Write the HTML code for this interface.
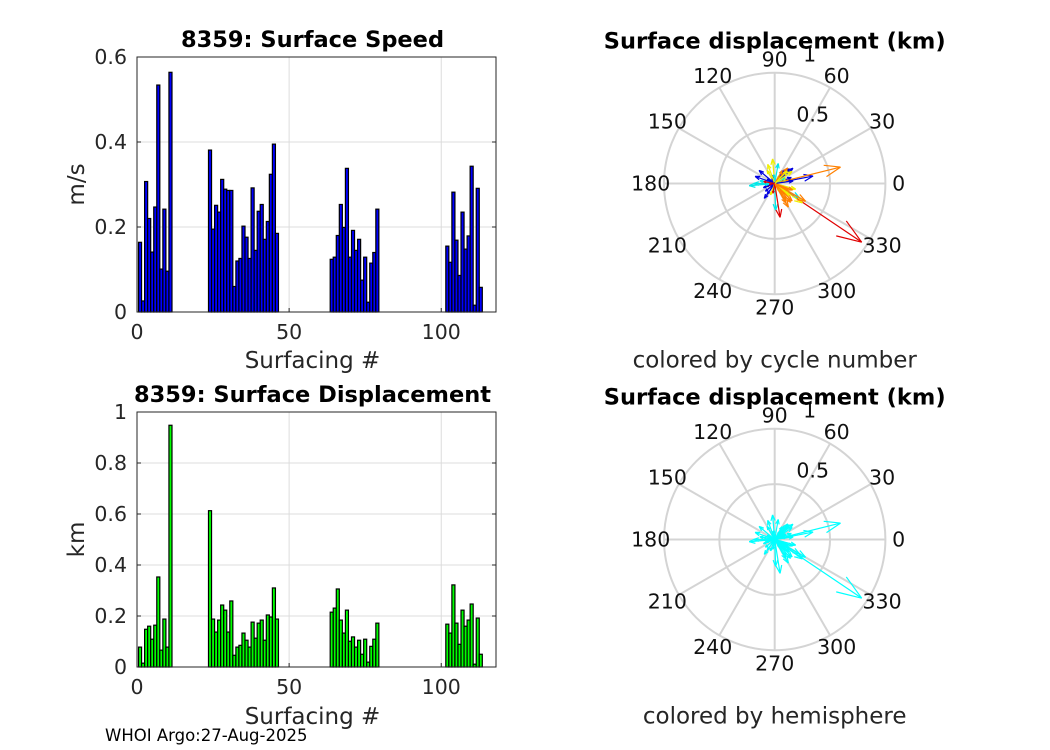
<!DOCTYPE html>
<html><head><meta charset="utf-8"><style>
body{margin:0;background:#fff;}
svg{display:block;font-family:"DejaVu Sans","Liberation Sans",sans-serif;}
.tk{font-size:20.5px;fill:#262626;}
.tt{font-size:22.5px;font-weight:bold;fill:#000;}
.lb{font-size:23px;fill:#262626;}
</style></head><body>
<svg id="fig" width="1050" height="750" viewBox="0 0 1050 750"></svg>
<script>
const surfacing=[1,2,3,4,5,6,7,8,9,10,11,24,25,26,27,28,29,30,31,32,33,34,35,36,37,38,39,40,41,42,43,44,45,46,64,65,66,67,68,69,70,71,72,73,74,75,76,77,78,79,102,103,104,105,106,107,108,109,110,111,112,113];
const speed=[0.164,0.026,0.307,0.220,0.141,0.247,0.534,0.101,0.242,0.096,0.564,
0.381,0.195,0.251,0.235,0.312,0.289,0.286,0.286,0.060,0.120,0.126,0.202,0.176,0.126,0.292,0.145,0.237,0.253,0.171,0.213,0.324,0.395,0.185,
0.124,0.129,0.180,0.253,0.199,0.338,0.129,0.192,0.145,0.171,0.075,0.129,0.023,0.115,0.140,0.242,
0.155,0.117,0.282,0.169,0.086,0.235,0.148,0.179,0.343,0.016,0.291,0.058];
const displacement=[0.078,0.015,0.148,0.160,0.109,0.164,0.353,0.066,0.188,0.078,0.948,
0.613,0.188,0.137,0.184,0.243,0.223,0.137,0.259,0.046,0.078,0.085,0.133,0.105,0.078,0.176,0.113,0.172,0.184,0.105,0.204,0.196,0.310,0.188,
0.215,0.231,0.306,0.184,0.133,0.223,0.101,0.118,0.078,0.105,0.050,0.109,0.019,0.081,0.109,0.172,
0.168,0.133,0.322,0.172,0.089,0.223,0.160,0.184,0.247,0.011,0.192,0.050];
const direction=[150,200,55,20,220,235,11,190,160,100,326,
14,45,170,80,272,95,120,330,180,200,190,315,340,60,305,25,320,50,10,300,345,279,180,
40,185,325,140,60,310,170,235,300,30,120,200,0,95,250,320,
8,335,330,340,260,315,45,110,300,90,35,190];
const cycleColor=["b","b","b","b","b","b","b","r","b","b","R",
"o","d","c","c","c","y","y","c","r","r","c","o","o","y","o","y","o","o","y","o","y","R","c",
"b","c","y","b","o","o","R","b","y","c","b","b","b","c","y","y",
"b","o","o","o","R","o","y","y","o","b","y","R"];
const colorMap={b:"#0000e0",d:"#00008f",c:"#00e8e8",y:"#f0f000",o:"#ff8000",r:"#800000",R:"#e00000"};
const speedTicks=[0,0.2,0.4,0.6];
const dispTicks=[0,0.2,0.4,0.6,0.8,1];
const xTicks=[0,50,100];
const angleTicks=[0,30,60,90,120,150,180,210,240,270,300,330];

const svg=document.getElementById('fig');
const NS="http://www.w3.org/2000/svg";
function mk(tag,attrs,parent,text){const e=document.createElementNS(NS,tag);for(const k in attrs)e.setAttribute(k,attrs[k]);if(text!==undefined)e.textContent=text;(parent||svg).appendChild(e);return e;}

function barChart(name,top,bottom,ymax,ticks,vals,fill,title,ylabel,xlabelY,tickFmt){
  const g=mk('g',{});
  
  
  const L=137,R=496,xmax=118;
  const X=v=>L+(v)*(R-L)/xmax;
  const Y=v=>bottom-v*(bottom-top)/ymax;
  mk('rect',{x:L,y:top,width:R-L,height:bottom-top,fill:'#fff'},g);
  ticks.forEach(t=>{mk('line',{x1:L,x2:R,y1:Y(t),y2:Y(t),stroke:'#dcdcdc','stroke-width':1},g);});
  xTicks.forEach(t=>{mk('line',{x1:X(t),x2:X(t),y1:top,y2:bottom,stroke:'#dcdcdc','stroke-width':1},g);});
  surfacing.forEach((s,i)=>{
    const b=mk('rect',{x:X(s-0.5),y:Y(vals[i]),width:X(1)-X(0),height:Y(0)-Y(vals[i]),fill:fill,stroke:'#000','stroke-width':1.2},g);
    
    
  });
  mk('rect',{x:L,y:top,width:R-L,height:bottom-top,fill:'none',stroke:'#262626','stroke-width':1},g);
  ticks.forEach(t=>{
    mk('line',{x1:L,x2:L+4,y1:Y(t),y2:Y(t),stroke:'#262626'},g);
    mk('line',{x1:R,x2:R-4,y1:Y(t),y2:Y(t),stroke:'#262626'},g);
    const tx=mk('text',{x:L-10,y:Y(t)+7,'text-anchor':'end',class:'tk'},g,tickFmt(t));
    
    
  });
  xTicks.forEach(t=>{
    mk('line',{x1:X(t),x2:X(t),y1:bottom,y2:bottom-4,stroke:'#262626'},g);
    const tx=mk('text',{x:X(t),y:bottom+27,'text-anchor':'middle',class:'tk'},g,String(t));
    
    
  });
  const ti=mk('text',{x:(L+R)/2-4,y:top-10,'text-anchor':'middle',class:'tt'},g,title);
  
  
  const xl=mk('text',{x:(L+R)/2-4,y:xlabelY,'text-anchor':'middle',class:'lb'},g,'Surfacing #');
  
  
  const yl=mk('text',{x:0,y:0,'text-anchor':'middle',class:'lb',transform:`translate(84,${(top+bottom)/2}) rotate(-90)`},g,ylabel);
  
  
}
barChart('speed-bar-chart',57,312,0.6,speedTicks,speed,'#0000ff','8359: Surface Speed','m/s',368,t=>t===0?'0':t.toFixed(1));
barChart('displacement-bar-chart',412,667,1,dispTicks,displacement,'#00ff00','8359: Surface Displacement','km',724,t=>(t===0||t===1)?String(t):t.toFixed(1));

function polar(name,cx,cy,title,sub,colorFn){
  const g=mk('g',{});
  
  
  const Rm=110.7,rmax=1;
  angleTicks.forEach(a=>{const r=a*Math.PI/180;mk('line',{x1:cx,y1:cy,x2:cx+Rm*Math.cos(r),y2:cy-Rm*Math.sin(r),stroke:'#d4d4d4','stroke-width':2},g);});
  [0.5,1].forEach(v=>mk('circle',{cx:cx,cy:cy,r:v*Rm/rmax,fill:'none',stroke:'#d4d4d4','stroke-width':2},g));
  angleTicks.forEach(a=>{const r=a*Math.PI/180;const t=mk('text',{x:cx+124*Math.cos(r),y:cy-124*Math.sin(r)+7,'text-anchor':'middle',class:'tk',style:'fill:#111'},g,String(a));
    
    });
  mk('text',{x:cx+35,y:cy-124+2,'text-anchor':'middle',class:'tk',style:'fill:#111'},g,'1');
  mk('text',{x:cx+38,y:cy-62,'text-anchor':'middle',class:'tk',style:'fill:#111'},g,'0.5');
  direction.forEach((d,i)=>{
    const r=d*Math.PI/180,len=displacement[i]*Rm/rmax;
    const tx=cx+len*Math.cos(r),ty=cy-len*Math.sin(r);
    const col=colorFn(i);
    const a=mk('g',{stroke:col,'stroke-width':1.2,fill:'none'},g);
    
    
    mk('line',{x1:cx,y1:cy,x2:tx,y2:ty},a);
    const h=len*0.25;
    [0.35,-0.35].forEach(o=>{mk('line',{x1:tx,y1:ty,x2:tx-h*Math.cos(r+o),y2:ty+h*Math.sin(r+o)},a);});
  });
  const ti=mk('text',{x:cx,y:cy-135,'text-anchor':'middle',class:'tt'},g,title);
  
  
  const s=mk('text',{x:cx,y:cy+184,'text-anchor':'middle',class:'lb'},g,sub);
  
  
}
polar('polar-cycle',774.7,183.5,'Surface displacement (km)','colored by cycle number',i=>colorMap[cycleColor[i]]);
polar('polar-hemisphere',774.7,539.5,'Surface displacement (km)','colored by hemisphere',i=>'#00ffff');
const f=mk('text',{x:105,y:741,style:'font-size:16.5px;fill:#000'},svg,'WHOI Argo:27-Aug-2025');


</script>
</body></html>
